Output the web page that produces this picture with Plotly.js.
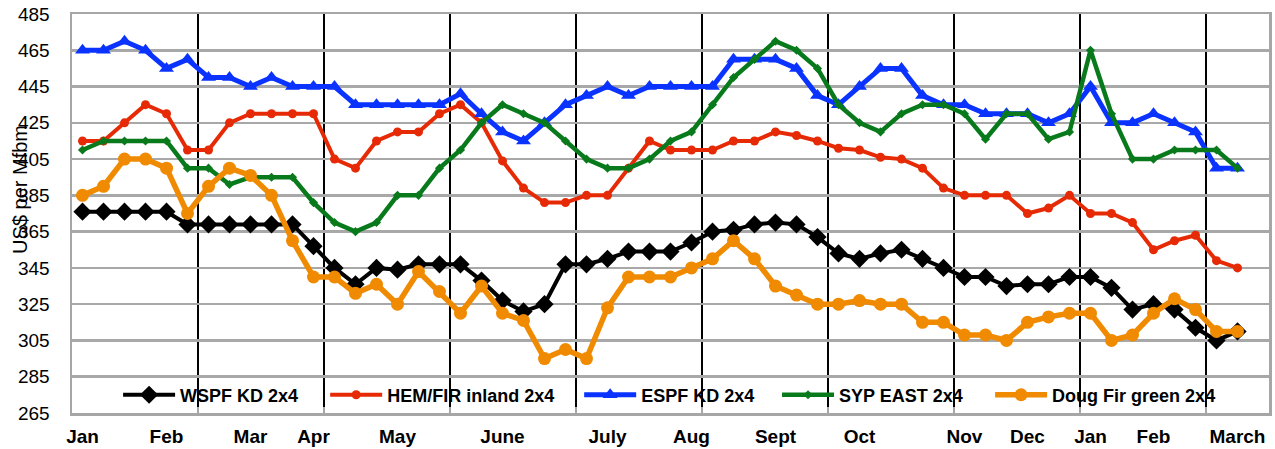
<!DOCTYPE html>
<html><head><meta charset="utf-8">
<script src="https://cdn.plot.ly/plotly-3.0.1.min.js"></script>
<style>html,body{margin:0;padding:0;background:#fff}#chart{width:1275px;height:449px}</style>
</head><body><div id="chart"></div>
<script>
// ---- data ----
const monthLabels = ['Jan','Feb','Mar','Apr','May','June','July','Aug','Sept','Oct','Nov','Dec','Jan','Feb','March'];
const monthWeekIndex = [0,4,8,11,15,20,25,29,33,37,42,45,48,51,55];
const weekSlots = 57;          // category slots on the axis
const gridEvery = 6;           // vertical black gridline every 6 weeks

const wspf = [376,376,376,376,376,369,369,369,369,369,369,357,345,336,345,344,347,
  347,347,338,327,321,325,347,347,350,354,354,354,359,365,366,369,370,369,362,353,
  350,353,355,350,345,340,340,335,336,336,340,340,334,322,325,322,312,305,310];
const hem = [415,415,425,435,430,410,410,425,430,430,430,430,405,400,415,420,420,
  430,435,425,404,389,381,381,385,385,400,415,410,410,410,415,415,420,418,415,411,
  410,406,405,400,389,385,385,385,375,378,385,375,375,370,355,360,363,349,345];
const espf = [465,465,470,465,455,460,450,450,445,450,445,445,445,435,435,435,435,
  435,441,430,420,415,425,435,440,445,440,445,445,445,445,460,460,460,455,440,435,
  445,455,455,440,435,435,430,430,430,425,430,445,425,425,430,425,420,400,400];
const syp = [410,415,415,415,415,400,400,391,395,395,395,381,370,365,370,385,385,
  400,410,425,435,430,425,415,405,400,400,405,415,420,435,450,460,470,465,455,435,
  425,420,430,435,435,430,416,430,430,416,420,465,430,405,405,410,410,410,400];
const doug = [385,390,405,405,400,375,390,400,396,385,360,340,340,331,336,325,343,
  332,320,335,320,316,295,300,295,323,340,340,340,345,350,360,350,335,330,325,325,
  327,325,325,315,315,308,308,305,315,318,320,320,305,308,320,328,322,310,310];
const seriesNames = ['WSPF KD 2x4','HEM/FIR inland 2x4','ESPF KD 2x4','SYP EAST 2x4','Doug Fir green 2x4'];

// ---- build ----
const weeks = wspf.map((_, i) => i);
const boundaries = [];
for (let b = gridEvery - 0.5; b < weekSlots - 0.5; b += gridEvery) boundaries.push(b);

const FONT = 'Liberation Sans, Arial, Helvetica, sans-serif';
const styles = [
  {color:'#000000', width:4,   symbol:'diamond',     size:14},
  {color:'#e62a05', width:4,   symbol:'circle',      size:9},
  {color:'#0a33ff', width:5,   symbol:'triangle-up', size:13},
  {color:'#087a1c', width:4.5, symbol:'diamond',     size:7},
  {color:'#f08a00', width:5.5, symbol:'circle',      size:13}
];
const values = [wspf, hem, espf, syp, doug];
const legendIds = ['legend','legend2','legend3','legend4','legend5'];

const traces = values.map((v, k) => ({
  x: weeks, y: v, name: seriesNames[k], type: 'scatter', mode: 'lines+markers',
  line: {color: styles[k].color, width: styles[k].width},
  marker: {symbol: styles[k].symbol, size: styles[k].size, color: styles[k].color},
  legend: legendIds[k], hoverinfo: 'skip'
}));

const legendX = [0.0385, 0.2115, 0.4237, 0.5890, 0.7670];
const layout = {
  width: 1275, height: 449,
  margin: {l: 72, r: 6, t: 14, b: 36},
  paper_bgcolor: '#ffffff', plot_bgcolor: '#ffffff',
  font: {family: FONT, color: '#000000'},
  showlegend: true,
  xaxis: {
    type: 'linear', range: [-0.5, weekSlots - 0.5],
    tickmode: 'array', tickvals: monthWeekIndex, ticktext: monthLabels,
    tickfont: {family: FONT, size: 19, color: '#000', weight: 'bold'},
    ticks: '', showgrid: false, zeroline: false,
    showline: true, linecolor: '#a6a6a6', linewidth: 2.5, mirror: true,
    ticklabelstandoff: 5,
    minor: {tickmode: 'array', tickvals: boundaries, showgrid: true, gridcolor: '#000000',
            gridwidth: 2, ticks: 'inside', ticklen: 6, tickcolor: '#a6a6a6', tickwidth: 2}
  },
  yaxis: {
    range: [265, 485], tickmode: 'linear', tick0: 265, dtick: 20,
    tickfont: {family: FONT, size: 19, color: '#000'},
    showgrid: true, gridcolor: '#a8a8a8', gridwidth: 2.5, zeroline: false,
    showline: true, linecolor: '#a6a6a6', linewidth: 2.5, mirror: true,
    ticks: '', ticklabelstandoff: 16
  },
  shapes: [{type: 'rect', xref: 'paper', x0: 0, x1: 1, yref: 'y', y0: 265, y1: 284.1,
            fillcolor: '#ffffff', line: {width: 0}, layer: 'between'}],
  annotations: [{text: 'US$ per Mfbm', textangle: -90, xref: 'paper', yref: 'paper',
                 x: -0.044, y: 0.56, xanchor: 'center', yanchor: 'middle', showarrow: false,
                 font: {family: FONT, size: 20, color: '#000'}}]
};
legendIds.forEach((id, k) => {
  layout[id] = {orientation: 'h', x: legendX[k], xanchor: 'left', y: 0.045, yanchor: 'middle',
    bgcolor: 'rgba(0,0,0,0)', borderwidth: 0, itemwidth: 52,
    font: {family: FONT, size: 18, color: '#000', weight: 'bold'}};
});

Plotly.newPlot('chart', traces, layout, {staticPlot: true, displayModeBar: false});
</script>
</body></html>
